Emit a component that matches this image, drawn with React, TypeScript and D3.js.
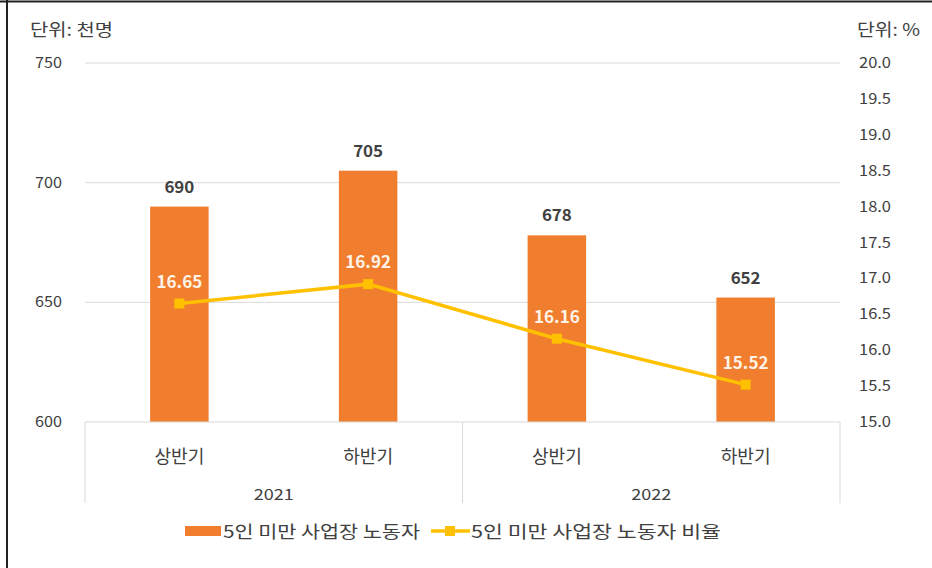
import React from "react";
import * as d3 from "d3";

const categories = ["상반기", "하반기", "상반기", "하반기"];
const years = ["2021", "2022"];
const workers = [690, 705, 678, 652];
const ratios = [16.65, 16.92, 16.16, 15.52];
const leftTicks = [600, 650, 700, 750];
const rightTicks = [15.0, 15.5, 16.0, 16.5, 17.0, 17.5, 18.0, 18.5, 19.0, 19.5, 20.0];
const seriesNames = ["5인 미만 사업장 노동자", "5인 미만 사업장 노동자 비율"];

const W = 932, H = 568;
const L = 85, R = 840, T = 63, B = 422;
const FONT = "'Noto Sans CJK KR', 'Noto Sans', sans-serif";
const ORANGE = "#F07E2E";
const YELLOW = "#FFC000";

export default function App() {
  const x = d3.scaleBand<number>().domain(d3.range(categories.length)).range([L, R]).paddingInner(0.69).paddingOuter(0.345);
  const yL = d3.scaleLinear().domain([600, 750]).range([B, T]);
  const yR = d3.scaleLinear().domain([15, 20]).range([B, T]);
  const cx = (i: number) => (x(i) as number) + x.bandwidth() / 2;
  const line = d3.line<number>().x((_, i) => cx(i)).y((d) => yR(d));
  const step = (R - L) / categories.length;
  const fit = { lengthAdjust: "spacingAndGlyphs" as const };

  return (
    <svg width={W} height={H} style={{ position: "fixed", left: 0, top: 0, background: "#fff" }} fontFamily={FONT}>
      <rect x={0} y={0} width={W} height={H} fill="#fff" />
      <line x1={0} x2={W} y1={1.5} y2={1.5} stroke="#222" strokeWidth={2} />
      <line x1={7} x2={7} y1={0} y2={H} stroke="#222" strokeWidth={2} />

      <text x={30} y={36} fontSize={17} fill="#404040" textLength={83} {...fit}>단위: 천명</text>
      <text x={857} y={36} fontSize={17} fill="#404040" textLength={63} {...fit}>단위: %</text>

      {leftTicks.map((t) => (
        <g key={"l" + t}>
          {t !== 600 && <line x1={L} x2={R} y1={yL(t)} y2={yL(t)} stroke="#D9D9D9" strokeWidth={1} />}
          <text x={62} y={yL(t) + 5} fontSize={15} textAnchor="end" fill="#404040" textLength={27} {...fit}>{t}</text>
        </g>
      ))}
      {rightTicks.map((t) => (
        <text key={"r" + t} x={859} y={yR(t) + 5} fontSize={15} fill="#404040" textLength={32} {...fit}>{t.toFixed(1)}</text>
      ))}

      {workers.map((v, i) => (
        <g key={"b" + i}>
          <rect x={x(i)} y={yL(v)} width={x.bandwidth()} height={B - yL(v)} fill={ORANGE} />
          <text x={cx(i)} y={yL(v) - 14} fontSize={16} fontWeight="bold" textAnchor="middle" fill="#404040" textLength={30} {...fit}>{v}</text>
        </g>
      ))}

      <line x1={L} x2={R} y1={B} y2={B} stroke="#D9D9D9" strokeWidth={1} />
      {[0, 2, 4].map((k) => (
        <line key={"s" + k} x1={L + k * step} x2={L + k * step} y1={B} y2={503} stroke="#D9D9D9" strokeWidth={1} />
      ))}
      {categories.map((c, i) => (
        <text key={"c" + i} x={cx(i)} y={463} fontSize={18} textAnchor="middle" fill="#404040" textLength={50} {...fit}>{c}</text>
      ))}
      {years.map((yv, k) => (
        <text key={"y" + k} x={L + (2 * k + 1) * step} y={500} fontSize={15} textAnchor="middle" fill="#404040" textLength={40} {...fit}>{yv}</text>
      ))}

      <path d={line(ratios) || ""} fill="none" stroke={YELLOW} strokeWidth={3.5} />
      {ratios.map((v, i) => (
        <g key={"m" + i}>
          <rect x={cx(i) - 5} y={yR(v) - 5} width={10} height={10} fill={YELLOW} />
          <text x={cx(i)} y={yR(v) - 16} fontSize={17} fontWeight="bold" textAnchor="middle" fill="#FFF3E8">{v.toFixed(2)}</text>
        </g>
      ))}

      <rect x={185} y={526} width={36} height={10} fill={ORANGE} />
      <text x={223} y={538} fontSize={17} fill="#404040" textLength={197} {...fit}>{seriesNames[0]}</text>
      <line x1={431} x2={470} y1={531} y2={531} stroke={YELLOW} strokeWidth={3.5} />
      <rect x={445} y={526} width={10} height={10} fill={YELLOW} />
      <text x={471} y={538} fontSize={17} fill="#404040" textLength={250} {...fit}>{seriesNames[1]}</text>
    </svg>
  );
}
